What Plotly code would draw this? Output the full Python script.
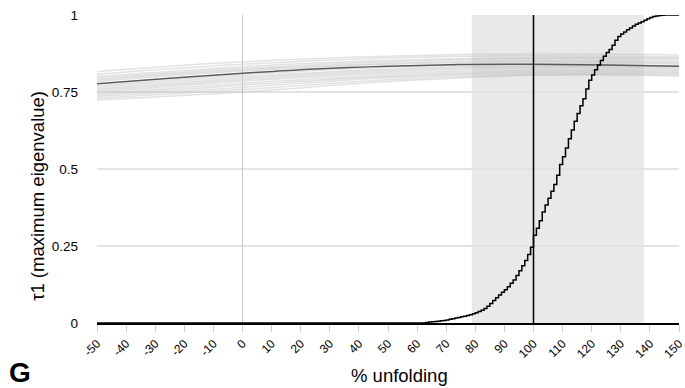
import plotly.graph_objects as go

# ---- data ----
cdf_x = [-50, 62, 63, 64, 65, 66, 67, 68, 69, 70, 71, 72, 73, 74, 75, 76, 77, 78, 79, 80,
         81, 82, 83, 84, 85, 86, 87, 88, 89, 90, 91, 92, 93, 94, 95, 96, 97, 98, 99, 100,
         101, 102, 103, 104, 105, 106, 107, 108, 109, 110, 111, 112, 113, 114, 115, 116,
         117, 118, 119, 120, 121, 122, 123, 124, 125, 126, 127, 128, 129, 130, 131, 132,
         133, 134, 135, 136, 137, 138, 139, 140, 141, 142, 143, 144, 145, 150]
cdf_y = [0.0, 0.000, 0.002, 0.003, 0.004, 0.005, 0.006, 0.007, 0.008, 0.010, 0.012, 0.014,
         0.016, 0.018, 0.020, 0.022, 0.024, 0.027, 0.030, 0.033, 0.037, 0.041, 0.047, 0.054,
         0.063, 0.073, 0.082, 0.091, 0.100, 0.108, 0.118, 0.129, 0.140, 0.154, 0.170, 0.186,
         0.203, 0.222, 0.246, 0.285, 0.308, 0.332, 0.360, 0.383, 0.405, 0.428, 0.450, 0.480,
         0.515, 0.540, 0.568, 0.598, 0.627, 0.655, 0.680, 0.705, 0.728, 0.760, 0.788, 0.805,
         0.822, 0.838, 0.852, 0.866, 0.878, 0.888, 0.902, 0.918, 0.930, 0.938, 0.945, 0.952,
         0.958, 0.964, 0.970, 0.974, 0.978, 0.983, 0.988, 0.992, 0.995, 0.997, 0.998, 0.999,
         1.000, 1.000]

main_x = [-50, -25, 0, 25, 50, 75, 100, 125, 150]
main_y = [0.777, 0.795, 0.811, 0.825, 0.834, 0.839, 0.840, 0.838, 0.834]

sample_x = [-50, 0, 50, 100, 150]
samples = [
    [0.816, 0.848, 0.866, 0.874, 0.870],
    [0.808, 0.840, 0.860, 0.868, 0.864],
    [0.800, 0.832, 0.853, 0.862, 0.860],
    [0.795, 0.826, 0.848, 0.858, 0.856],
    [0.790, 0.822, 0.843, 0.852, 0.851],
    [0.785, 0.818, 0.840, 0.848, 0.846],
    [0.770, 0.806, 0.830, 0.842, 0.842],
    [0.765, 0.800, 0.824, 0.836, 0.836],
    [0.760, 0.795, 0.820, 0.832, 0.830],
    [0.755, 0.790, 0.815, 0.828, 0.826],
    [0.750, 0.785, 0.810, 0.822, 0.822],
    [0.745, 0.778, 0.804, 0.818, 0.818],
    [0.740, 0.772, 0.800, 0.814, 0.814],
    [0.735, 0.765, 0.796, 0.810, 0.810],
    [0.730, 0.758, 0.790, 0.806, 0.806],
    [0.724, 0.750, 0.784, 0.804, 0.802],
]

band = [78.8, 137.9]
ref_x = 100
x_ticks = list(range(-50, 151, 10))
x_tick_text = [str(v) for v in x_ticks]  # plain hyphen for negatives
y_ticks = [0, 0.25, 0.5, 0.75, 1]
y_tick_text = ["0", "0.25", "0.5", "0.75", "1"]

FONT = "Liberation Sans, Arial, Helvetica, sans-serif"

fig = go.Figure()

for s in samples:
    fig.add_trace(go.Scatter(x=sample_x, y=s, mode="lines",
                             line=dict(color="rgba(190,190,190,0.45)", width=1.5, shape="spline"),
                             hoverinfo="skip", showlegend=False))

fig.add_trace(go.Scatter(x=main_x, y=main_y, mode="lines",
                         line=dict(color="#5a5a5a", width=1.5, shape="spline"),
                         showlegend=False))

fig.add_trace(go.Scatter(x=cdf_x, y=cdf_y, mode="lines",
                         line=dict(color="black", width=1.5, shape="hv"),
                         showlegend=False))

fig.add_shape(type="rect", xref="x", yref="paper", x0=band[0], x1=band[1], y0=0, y1=1,
              fillcolor="#e8e9e9", line=dict(width=0), layer="below")
fig.add_shape(type="line", xref="x", yref="paper", x0=ref_x, x1=ref_x, y0=0, y1=1,
              line=dict(color="black", width=1.5))

fig.add_annotation(text="<b>G</b>", xref="paper", yref="paper", x=-0.155, y=-0.105,
                   xanchor="left", yanchor="top", showarrow=False,
                   font=dict(size=28, color="black", family=FONT))
fig.add_annotation(text="% unfolding", xref="paper", yref="paper", x=0.52, y=-0.169,
                   xanchor="center", yanchor="middle", showarrow=False,
                   font=dict(size=18.5, color="black", family=FONT))
fig.add_annotation(text="τ1 (maximum eigenvalue)", xref="paper", yref="paper",
                   x=-0.1035, y=0.412, textangle=-90,
                   xanchor="center", yanchor="middle", showarrow=False,
                   font=dict(size=18.5, color="black", family=FONT))

fig.update_layout(
    width=685, height=388,
    margin=dict(l=97, r=6, t=15, b=65),
    plot_bgcolor="white", paper_bgcolor="white",
    font=dict(family=FONT, color="black", size=12),
    xaxis=dict(range=[-50, 150], tickvals=x_ticks, ticktext=x_tick_text, tickangle=-45,
               ticklabeloverflow="allow", automargin=False,
               showgrid=False, zeroline=True, zerolinecolor="#c8c8c8", zerolinewidth=1,
               showline=True, linecolor="black", linewidth=1.8,
               ticks="outside", ticklen=7, tickcolor="#d0d0d0",
               tickfont=dict(size=12)),
    yaxis=dict(range=[0, 1], tickvals=y_ticks, ticktext=y_tick_text, automargin=False,
               showgrid=True, gridcolor="#e3e3e3", gridwidth=1.5, zeroline=False,
               showline=False, ticks="", ticklabelstandoff=18,
               tickfont=dict(size=13.5)),
)

fig.write_html("out.html")
